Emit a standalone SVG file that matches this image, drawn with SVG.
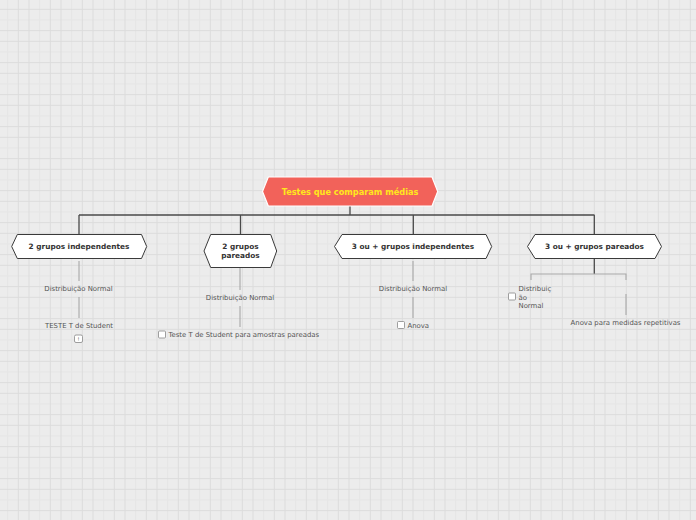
<svg xmlns="http://www.w3.org/2000/svg" width="696" height="520" viewBox="0 0 696 520">
<defs>
<pattern id="grid" x="0" y="0" width="32" height="32" patternUnits="userSpaceOnUse">
<path d="M7.67 0V32M0 20H32" fill="none" stroke="#e5e5e5" stroke-width="1"/>
<path d="M18.33 0V32M29 0V32M0 9.33H32M0 30.67H32" fill="none" stroke="#dcdcdc" stroke-width="1"/>
</pattern>
<style>
.main{font-family:"DejaVu Sans",Verdana,sans-serif;font-weight:bold;font-size:8.2px;fill:#ffe81c;text-anchor:middle}
.hex{fill:#ffffff;stroke:#3a3a3a;stroke-width:1}
.lbl{font-family:"DejaVu Sans",Verdana,sans-serif;font-weight:bold;font-size:7.35px;fill:#333333;text-anchor:middle}
.sub{font-family:"DejaVu Sans",Verdana,sans-serif;font-size:6.9px;fill:#555555}
.c{text-anchor:middle}
.conn{fill:none;stroke:#4a4a4a;stroke-width:1.3}
.thin{fill:none;stroke:#a8a8a8;stroke-width:1.1}
.box{fill:#ffffff;stroke:#888888;stroke-width:0.8}
</style>
</defs>
<rect width="696" height="520" fill="#ececec"/>
<rect width="696" height="520" fill="url(#grid)"/>

<g id="connectors">
<path class="conn" d="M350 206V215M79 215H594.5M79 215V234.5M240.5 215V234.5M413.3 215V234.5M594.3 215V234.5"/>
<path class="conn" d="M594.3 258.5V274"/>
<path class="thin" d="M531 280V274H626V280"/>
<path class="thin" d="M79 261V281M79 297V318"/>
<path class="thin" d="M240 268V290M240 306V327"/>
<path class="thin" d="M413 261V281M413 297V318"/>
<path class="thin" d="M626 294V315"/>
</g>

<g id="root">
<path d="M262.5 191.5L268.3 177H432L437.7 191.5L432 206H268.3Z" fill="#f2625a" stroke="#ffffff" stroke-width="1.2" stroke-linejoin="round"/>
<text class="main" x="350" y="194.5">Testes que comparam médias</text>
</g>

<g id="n1">
<path class="hex" d="M11.7 246.5L17.3 234.5H141.5L146.7 246.5L141.5 258.5H17.3Z" stroke-linejoin="round"/>
<text class="lbl" x="79" y="249">2 grupos independentes</text>
</g>
<g id="n2">
<path class="hex" d="M204 251L210.7 234.5H270.7L276.7 251L270.7 267.5H210.7Z" stroke-linejoin="round"/>
<text class="lbl" x="240.5" y="249">2 grupos</text>
<text class="lbl" x="240.5" y="258">pareados</text>
</g>
<g id="n3">
<path class="hex" d="M334.5 246.5L342 234.5H486L491.7 246.5L486 258.5H342Z" stroke-linejoin="round"/>
<text class="lbl" x="413" y="249">3 ou + grupos independentes</text>
</g>
<g id="n4">
<path class="hex" d="M527.5 246.5L535 234.5H655L661.5 246.5L655 258.5H535Z" stroke-linejoin="round"/>
<text class="lbl" x="594.5" y="249">3 ou + grupos pareados</text>
</g>

<g id="n1a"><text class="sub c" x="78.5" y="291">Distribuição Normal</text></g>
<g id="n1b">
<text class="sub c" x="79" y="328">TESTE T de Student</text>
<rect class="box" x="74.5" y="335" width="8" height="7.5" rx="1.5"/>
<text class="sub c" x="78.5" y="341" style="font-size:5px">!</text>
</g>
<g id="n2a"><text class="sub c" x="240" y="300">Distribuição Normal</text></g>
<g id="n2b">
<rect class="box" x="158.5" y="331" width="7" height="7" rx="1"/>
<text class="sub" x="168.5" y="337">Teste T de Student para amostras pareadas</text>
</g>
<g id="n3a"><text class="sub c" x="413" y="291">Distribuição Normal</text></g>
<g id="n3b">
<rect class="box" x="397.5" y="321.5" width="7" height="7" rx="1"/>
<text class="sub" x="407.5" y="328">Anova</text>
</g>
<g id="n4a">
<rect class="box" x="508.5" y="293" width="7" height="7" rx="1"/>
<text class="sub" x="518.5" y="291">Distribuiç</text>
<text class="sub" x="518.5" y="299.5">ão</text>
<text class="sub" x="518.5" y="308">Normal</text>
</g>
<g id="n4b"><text class="sub c" x="625.5" y="325">Anova para medidas repetitivas</text></g>
</svg>
